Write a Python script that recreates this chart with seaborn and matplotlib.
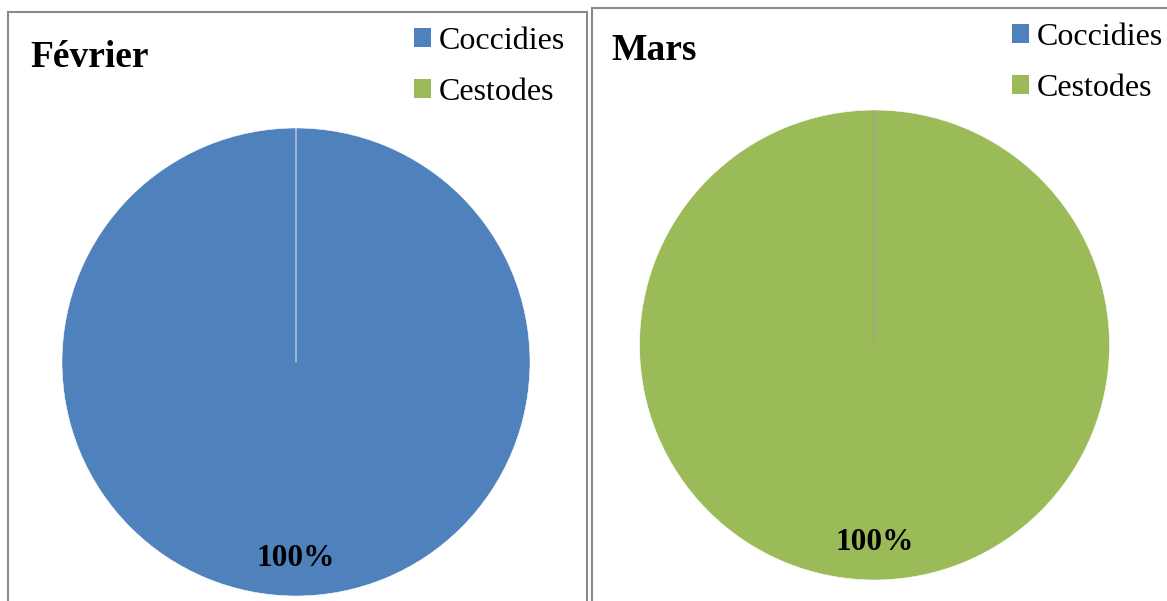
import matplotlib
matplotlib.use("Agg")
import matplotlib.pyplot as plt
from matplotlib.patches import Rectangle
import seaborn as sns

# Parasite composition per month (%)
months = ["Février", "Mars"]
categories = ["Coccidies", "Cestodes"]
fevrier_values = [100, 0]
mars_values = [0, 100]

sns.set_theme(style="white")
plt.rcParams["font.family"] = ["Liberation Serif", "DejaVu Serif"]
plt.rcParams["text.color"] = "black"

palette = sns.color_palette(["#4F81BD", "#9BBB59"])

W, H = 1167, 601
fig = plt.figure(figsize=(W / 100, H / 100), dpi=100)
fig.patch.set_facecolor("white")


def fx(px):
    return px / W


def fy(py):
    return 1 - py / H


# Panel frames (pixel extents, top-left origin)
frames = [(7.5, 12, 587, 640), (592, 8, 1200, 640)]
for x0, y0, x1, y1 in frames:
    fig.patches.append(Rectangle((fx(x0), fy(y1)), fx(x1 - x0), (y1 - y0) / H,
                                 transform=fig.transFigure, fill=False,
                                 edgecolor="#8a8a8a", linewidth=1.5, zorder=0))

# Pie placement: (centre x, centre y, radius) in pixels
pies = [(296, 362, 234), (874.5, 345, 235)]
titles = [(30, 67), (611, 60)]
legends = [(414, 27), (1012, 23)]
seam_colors = ["#c8d6ea", "#a0a58c"]
series = [fevrier_values, mars_values]


def pct_label(p):
    return f"{p:.0f}%" if p > 0 else ""


for (cx, cy, r), (tx, ty), (lx, ly), seam, month, vals in zip(
        pies, titles, legends, seam_colors, months, series):
    ax = fig.add_axes([fx(cx - r), fy(cy + r), 2 * r / W, 2 * r / H])
    wedges, texts, autotexts = ax.pie(
        vals, colors=palette, startangle=90, counterclock=False, radius=1,
        autopct=pct_label, pctdistance=0.84,
        wedgeprops=dict(edgecolor="white", linewidth=0.4),
        textprops=dict(fontsize=22.5, fontweight="bold", color="black"),
    )
    # an empty slice still shows as a seam line at 12 o'clock
    for w, v in zip(wedges, vals):
        if v == 0:
            w.set_zorder(3)
            w.set_edgecolor(seam)
            w.set_linewidth(0.9)
    ax.set_xlim(-1, 1)
    ax.set_ylim(-1, 1)
    ax.set_aspect("auto")
    ax.axis("off")

    fig.text(fx(tx), fy(ty), month, fontsize=27, fontweight="bold",
             ha="left", va="baseline", color="black")

    leg = ax.legend(wedges, categories, loc="upper left",
                    bbox_to_anchor=(fx(lx), fy(ly)), bbox_transform=fig.transFigure,
                    frameon=False, fontsize=23, handlelength=0.52, handleheight=0.52,
                    handletextpad=0.24, labelspacing=0.68, borderpad=0, borderaxespad=0)
    for h in leg.legend_handles:
        h.set_edgecolor("none")
        h.set_linewidth(0)
    for t in leg.get_texts():
        t.set_color("black")

fig.savefig("out.png", dpi=100, facecolor="white")
